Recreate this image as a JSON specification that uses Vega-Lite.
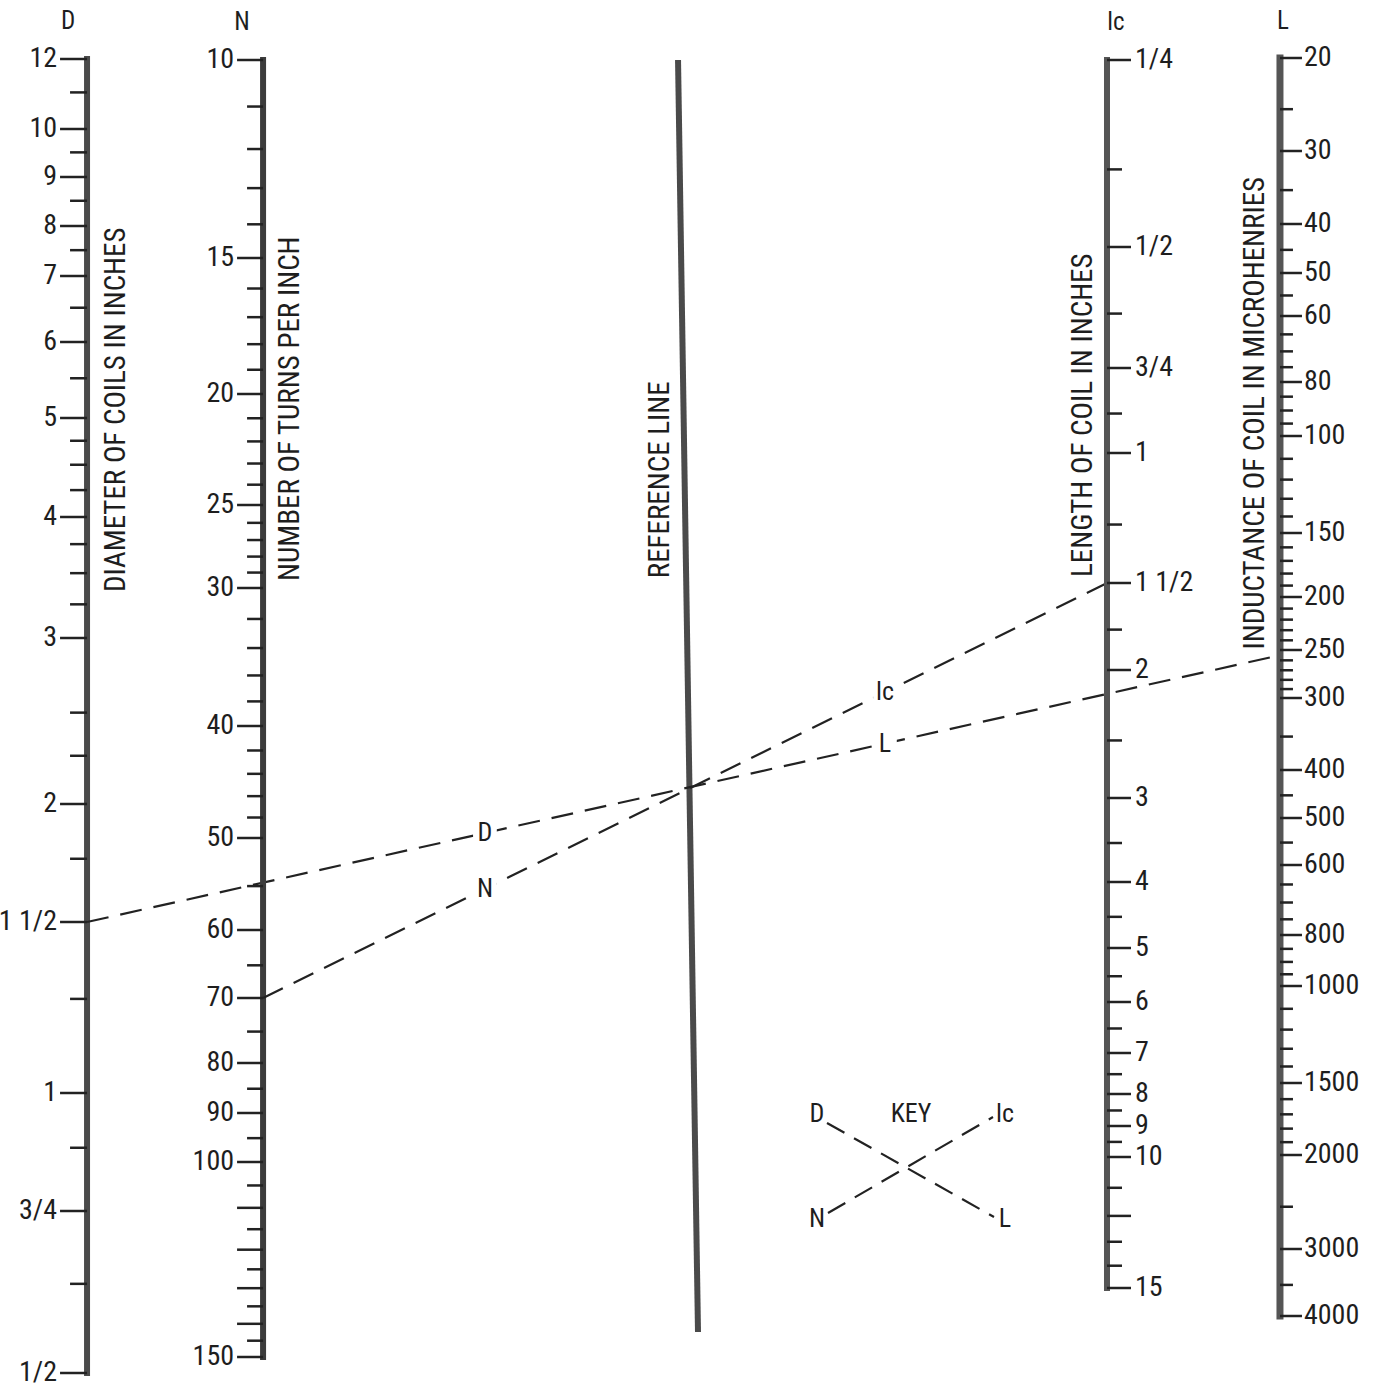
{
  "$schema": "https://vega.github.io/schema/vega-lite/v6.json",
  "width": 1386,
  "height": 1390,
  "padding": 0,
  "autosize": {"type": "none"},
  "background": "#ffffff",
  "config": {
    "view": {"stroke": null},
    "text": {"font": "Roboto Condensed, DejaVu Sans Condensed, Liberation Sans Narrow, sans-serif", "fontSize": 28, "fontWeight": 400, "color": "#1e1e1e"}
  },
  "datasets": {
    "axes": [
      {"scale": "R", "title": "REFERENCE LINE", "from": 0, "to": 1},
      {"scale": "D", "symbol": "D", "title": "DIAMETER OF COILS IN INCHES", "from": 0.5, "to": 12},
      {"scale": "N", "symbol": "N", "title": "NUMBER OF TURNS PER INCH", "from": 10, "to": 150},
      {"scale": "lc", "symbol": "lc", "title": "LENGTH OF COIL IN INCHES", "from": 0.25, "to": 15},
      {"scale": "L", "symbol": "L", "title": "INDUCTANCE OF COIL IN MICROHENRIES", "from": 20, "to": 4000}
    ],
    "solution": [
      {"line": "D to L", "from": "D", "fromValue": 1.5, "to": "L", "toValue": 255, "fromLabel": "D", "toLabel": "L"},
      {"line": "N to lc", "from": "N", "fromValue": 70, "to": "lc", "toValue": 1.5, "fromLabel": "N", "toLabel": "lc"}
    ],
    "keyLabels": [
      {"text": "D", "col": "left", "row": "top"},
      {"text": "KEY", "col": "middle", "row": "top"},
      {"text": "lc", "col": "right", "row": "top"},
      {"text": "N", "col": "left", "row": "bottom"},
      {"text": "L", "col": "right", "row": "bottom"}
    ],
    "keyLines": [
      {"pair": "D to L", "startCol": "left", "startRow": "top", "endCol": "right", "endRow": "bottom"},
      {"pair": "N to lc", "startCol": "left", "startRow": "bottom", "endCol": "right", "endRow": "top"}
    ],
    "ticks": [
      {"scale": "D", "value": 0.5, "kind": "major", "label": "1/2"},
      {"scale": "D", "value": 0.75, "kind": "major", "label": "3/4"},
      {"scale": "D", "value": 1, "kind": "major", "label": "1"},
      {"scale": "D", "value": 1.5, "kind": "major", "label": "1 1/2"},
      {"scale": "D", "value": 2, "kind": "major", "label": "2"},
      {"scale": "D", "value": 3, "kind": "major", "label": "3"},
      {"scale": "D", "value": 4, "kind": "major", "label": "4"},
      {"scale": "D", "value": 5, "kind": "major", "label": "5"},
      {"scale": "D", "value": 6, "kind": "major", "label": "6"},
      {"scale": "D", "value": 7, "kind": "major", "label": "7"},
      {"scale": "D", "value": 8, "kind": "major", "label": "8"},
      {"scale": "D", "value": 9, "kind": "major", "label": "9"},
      {"scale": "D", "value": 10, "kind": "major", "label": "10"},
      {"scale": "D", "value": 12, "kind": "major", "label": "12"},
      {"scale": "D", "value": 0.625, "kind": "minor"},
      {"scale": "D", "value": 0.875, "kind": "minor"},
      {"scale": "D", "value": 1.25, "kind": "minor"},
      {"scale": "D", "value": 1.75, "kind": "minor"},
      {"scale": "D", "value": 2.25, "kind": "minor"},
      {"scale": "D", "value": 2.5, "kind": "minor"},
      {"scale": "D", "value": 3.25, "kind": "minor"},
      {"scale": "D", "value": 3.5, "kind": "minor"},
      {"scale": "D", "value": 3.75, "kind": "minor"},
      {"scale": "D", "value": 4.25, "kind": "minor"},
      {"scale": "D", "value": 4.5, "kind": "minor"},
      {"scale": "D", "value": 4.75, "kind": "minor"},
      {"scale": "D", "value": 5.5, "kind": "minor"},
      {"scale": "D", "value": 6.5, "kind": "minor"},
      {"scale": "D", "value": 7.5, "kind": "minor"},
      {"scale": "D", "value": 8.5, "kind": "minor"},
      {"scale": "D", "value": 9.5, "kind": "minor"},
      {"scale": "D", "value": 11, "kind": "minor"},

      {"scale": "N", "value": 10, "kind": "major", "label": "10"},
      {"scale": "N", "value": 15, "kind": "major", "label": "15"},
      {"scale": "N", "value": 20, "kind": "major", "label": "20"},
      {"scale": "N", "value": 25, "kind": "major", "label": "25"},
      {"scale": "N", "value": 30, "kind": "major", "label": "30"},
      {"scale": "N", "value": 40, "kind": "major", "label": "40"},
      {"scale": "N", "value": 50, "kind": "major", "label": "50"},
      {"scale": "N", "value": 60, "kind": "major", "label": "60"},
      {"scale": "N", "value": 70, "kind": "major", "label": "70"},
      {"scale": "N", "value": 80, "kind": "major", "label": "80"},
      {"scale": "N", "value": 90, "kind": "major", "label": "90"},
      {"scale": "N", "value": 100, "kind": "major", "label": "100"},
      {"scale": "N", "value": 150, "kind": "major", "label": "150"},
      {"scale": "N", "value": 110, "kind": "major"},
      {"scale": "N", "value": 120, "kind": "major"},
      {"scale": "N", "value": 130, "kind": "major"},
      {"scale": "N", "value": 140, "kind": "major"},
      {"scale": "N", "value": 11, "kind": "minor"},
      {"scale": "N", "value": 12, "kind": "minor"},
      {"scale": "N", "value": 13, "kind": "minor"},
      {"scale": "N", "value": 14, "kind": "minor"},
      {"scale": "N", "value": 16, "kind": "minor"},
      {"scale": "N", "value": 17, "kind": "minor"},
      {"scale": "N", "value": 18, "kind": "minor"},
      {"scale": "N", "value": 19, "kind": "minor"},
      {"scale": "N", "value": 21, "kind": "minor"},
      {"scale": "N", "value": 22, "kind": "minor"},
      {"scale": "N", "value": 23, "kind": "minor"},
      {"scale": "N", "value": 24, "kind": "minor"},
      {"scale": "N", "value": 26, "kind": "minor"},
      {"scale": "N", "value": 27, "kind": "minor"},
      {"scale": "N", "value": 28, "kind": "minor"},
      {"scale": "N", "value": 29, "kind": "minor"},
      {"scale": "N", "value": 32, "kind": "minor"},
      {"scale": "N", "value": 34, "kind": "minor"},
      {"scale": "N", "value": 36, "kind": "minor"},
      {"scale": "N", "value": 38, "kind": "minor"},
      {"scale": "N", "value": 42, "kind": "minor"},
      {"scale": "N", "value": 44, "kind": "minor"},
      {"scale": "N", "value": 46, "kind": "minor"},
      {"scale": "N", "value": 48, "kind": "minor"},
      {"scale": "N", "value": 55, "kind": "minor"},
      {"scale": "N", "value": 65, "kind": "minor"},
      {"scale": "N", "value": 75, "kind": "minor"},
      {"scale": "N", "value": 85, "kind": "minor"},
      {"scale": "N", "value": 95, "kind": "minor"},
      {"scale": "N", "value": 105, "kind": "minor"},
      {"scale": "N", "value": 115, "kind": "minor"},
      {"scale": "N", "value": 125, "kind": "minor"},
      {"scale": "N", "value": 135, "kind": "minor"},
      {"scale": "N", "value": 145, "kind": "minor"},

      {"scale": "lc", "value": 0.25, "kind": "major", "label": "1/4"},
      {"scale": "lc", "value": 0.5, "kind": "major", "label": "1/2"},
      {"scale": "lc", "value": 0.75, "kind": "major", "label": "3/4"},
      {"scale": "lc", "value": 1, "kind": "major", "label": "1"},
      {"scale": "lc", "value": 1.5, "kind": "major", "label": "1 1/2"},
      {"scale": "lc", "value": 2, "kind": "major", "label": "2"},
      {"scale": "lc", "value": 3, "kind": "major", "label": "3"},
      {"scale": "lc", "value": 4, "kind": "major", "label": "4"},
      {"scale": "lc", "value": 5, "kind": "major", "label": "5"},
      {"scale": "lc", "value": 6, "kind": "major", "label": "6"},
      {"scale": "lc", "value": 7, "kind": "major", "label": "7"},
      {"scale": "lc", "value": 8, "kind": "major", "label": "8"},
      {"scale": "lc", "value": 9, "kind": "major", "label": "9"},
      {"scale": "lc", "value": 10, "kind": "major", "label": "10"},
      {"scale": "lc", "value": 15, "kind": "major", "label": "15"},
      {"scale": "lc", "value": 12, "kind": "major"},
      {"scale": "lc", "value": 0.375, "kind": "minor"},
      {"scale": "lc", "value": 0.625, "kind": "minor"},
      {"scale": "lc", "value": 0.875, "kind": "minor"},
      {"scale": "lc", "value": 1.25, "kind": "minor"},
      {"scale": "lc", "value": 1.75, "kind": "minor"},
      {"scale": "lc", "value": 2.5, "kind": "minor"},
      {"scale": "lc", "value": 3.5, "kind": "minor"},
      {"scale": "lc", "value": 4.5, "kind": "minor"},
      {"scale": "lc", "value": 5.5, "kind": "minor"},
      {"scale": "lc", "value": 6.5, "kind": "minor"},
      {"scale": "lc", "value": 7.5, "kind": "minor"},
      {"scale": "lc", "value": 8.5, "kind": "minor"},
      {"scale": "lc", "value": 9.5, "kind": "minor"},
      {"scale": "lc", "value": 11, "kind": "minor"},
      {"scale": "lc", "value": 13, "kind": "minor"},
      {"scale": "lc", "value": 14, "kind": "minor"},

      {"scale": "L", "value": 20, "kind": "major", "label": "20"},
      {"scale": "L", "value": 30, "kind": "major", "label": "30"},
      {"scale": "L", "value": 40, "kind": "major", "label": "40"},
      {"scale": "L", "value": 50, "kind": "major", "label": "50"},
      {"scale": "L", "value": 60, "kind": "major", "label": "60"},
      {"scale": "L", "value": 80, "kind": "major", "label": "80"},
      {"scale": "L", "value": 100, "kind": "major", "label": "100"},
      {"scale": "L", "value": 150, "kind": "major", "label": "150"},
      {"scale": "L", "value": 200, "kind": "major", "label": "200"},
      {"scale": "L", "value": 250, "kind": "major", "label": "250"},
      {"scale": "L", "value": 300, "kind": "major", "label": "300"},
      {"scale": "L", "value": 400, "kind": "major", "label": "400"},
      {"scale": "L", "value": 500, "kind": "major", "label": "500"},
      {"scale": "L", "value": 600, "kind": "major", "label": "600"},
      {"scale": "L", "value": 800, "kind": "major", "label": "800"},
      {"scale": "L", "value": 1000, "kind": "major", "label": "1000"},
      {"scale": "L", "value": 1500, "kind": "major", "label": "1500"},
      {"scale": "L", "value": 2000, "kind": "major", "label": "2000"},
      {"scale": "L", "value": 3000, "kind": "major", "label": "3000"},
      {"scale": "L", "value": 4000, "kind": "major", "label": "4000"},
      {"scale": "L", "value": 25, "kind": "minor"},
      {"scale": "L", "value": 35, "kind": "minor"},
      {"scale": "L", "value": 45, "kind": "minor"},
      {"scale": "L", "value": 55, "kind": "minor"},
      {"scale": "L", "value": 65, "kind": "minor"},
      {"scale": "L", "value": 70, "kind": "minor"},
      {"scale": "L", "value": 75, "kind": "minor"},
      {"scale": "L", "value": 85, "kind": "minor"},
      {"scale": "L", "value": 90, "kind": "minor"},
      {"scale": "L", "value": 95, "kind": "minor"},
      {"scale": "L", "value": 110, "kind": "minor"},
      {"scale": "L", "value": 120, "kind": "minor"},
      {"scale": "L", "value": 130, "kind": "minor"},
      {"scale": "L", "value": 140, "kind": "minor"},
      {"scale": "L", "value": 160, "kind": "minor"},
      {"scale": "L", "value": 170, "kind": "minor"},
      {"scale": "L", "value": 180, "kind": "minor"},
      {"scale": "L", "value": 190, "kind": "minor"},
      {"scale": "L", "value": 210, "kind": "minor"},
      {"scale": "L", "value": 220, "kind": "minor"},
      {"scale": "L", "value": 230, "kind": "minor"},
      {"scale": "L", "value": 240, "kind": "minor"},
      {"scale": "L", "value": 260, "kind": "minor"},
      {"scale": "L", "value": 270, "kind": "minor"},
      {"scale": "L", "value": 280, "kind": "minor"},
      {"scale": "L", "value": 290, "kind": "minor"},
      {"scale": "L", "value": 350, "kind": "minor"},
      {"scale": "L", "value": 450, "kind": "minor"},
      {"scale": "L", "value": 550, "kind": "minor"},
      {"scale": "L", "value": 650, "kind": "minor"},
      {"scale": "L", "value": 700, "kind": "minor"},
      {"scale": "L", "value": 750, "kind": "minor"},
      {"scale": "L", "value": 850, "kind": "minor"},
      {"scale": "L", "value": 900, "kind": "minor"},
      {"scale": "L", "value": 950, "kind": "minor"},
      {"scale": "L", "value": 1100, "kind": "minor"},
      {"scale": "L", "value": 1200, "kind": "minor"},
      {"scale": "L", "value": 1300, "kind": "minor"},
      {"scale": "L", "value": 1400, "kind": "minor"},
      {"scale": "L", "value": 1600, "kind": "minor"},
      {"scale": "L", "value": 1700, "kind": "minor"},
      {"scale": "L", "value": 1800, "kind": "minor"},
      {"scale": "L", "value": 1900, "kind": "minor"},
      {"scale": "L", "value": 2500, "kind": "minor"},
      {"scale": "L", "value": 3500, "kind": "minor"}
    ]
  },
  "resolve": {"scale": {"x": "independent", "y": "independent"}},
  "layer": [
    {
      "name": "R",
      "layer": [
        {
          "data": {"name": "axes"},
          "transform": [{"filter": "datum.scale === 'R'"}],
          "mark": {"type": "rule", "color": "#4a4a4a", "strokeWidth": 6},
          "encoding": {
            "x": {"datum": 50.36, "type": "quantitative", "scale": {"domain": [0, 100]}, "axis": null},
            "x2": {"datum": 48.92},
            "y": {"field": "from", "type": "quantitative", "scale": {"type": "linear", "domain": [0, 1], "range": [1332, 60], "nice": false, "zero": false}, "axis": null},
            "y2": {"field": "to"}
          }
        },
        {
          "data": {"name": "axes"},
          "transform": [{"filter": "datum.scale === 'R'"}],
          "mark": {"type": "text", "angle": 270, "align": "center", "baseline": "middle", "fontSize": 29},
          "encoding": {
            "x": {"datum": 47.62, "type": "quantitative", "scale": {"domain": [0, 100]}, "axis": null},
            "y": {"datum": 0.67, "type": "quantitative", "scale": {"type": "linear", "domain": [0, 1], "range": [1332, 60], "nice": false, "zero": false}, "axis": null},
            "text": {"field": "title"}
          }
        }
      ]
    },
    {
      "name": "D",
      "layer": [
        {
          "data": {"name": "axes"},
          "transform": [{"filter": "datum.scale === 'D'"}],
          "mark": {"type": "rule", "color": "#4a4a4a", "strokeWidth": 6, "strokeCap": "square"},
          "encoding": {
            "x": {"datum": 6.28, "type": "quantitative", "scale": {"domain": [0, 100]}, "axis": null},
            "y": {"field": "from", "type": "quantitative", "scale": {"type": "log", "domain": [0.5, 0.75, 1, 1.5, 2, 3, 4, 5, 6, 7, 8, 9, 10, 12], "range": [1373, 1211, 1093, 922, 804, 638, 517, 418, 342, 276, 226, 177, 129, 59], "nice": false}, "axis": null},
            "y2": {"field": "to"}
          }
        },
        {
          "data": {"name": "ticks"},
          "transform": [{"filter": "datum.scale === 'D' && datum.kind === 'major'"}],
          "mark": {"type": "rule", "color": "#222222", "strokeWidth": 2.5, "x2Offset": -27},
          "encoding": {
            "x": {"datum": 6.28, "type": "quantitative", "scale": {"domain": [0, 100]}, "axis": null},
            "x2": {"datum": 6.28},
            "y": {"field": "value", "type": "quantitative", "scale": {"type": "log", "domain": [0.5, 0.75, 1, 1.5, 2, 3, 4, 5, 6, 7, 8, 9, 10, 12], "range": [1373, 1211, 1093, 922, 804, 638, 517, 418, 342, 276, 226, 177, 129, 59], "nice": false}, "axis": null}
          }
        },
        {
          "data": {"name": "ticks"},
          "transform": [{"filter": "datum.scale === 'D' && datum.kind === 'minor'"}],
          "mark": {"type": "rule", "color": "#222222", "strokeWidth": 2.5, "x2Offset": -17},
          "encoding": {
            "x": {"datum": 6.28, "type": "quantitative", "scale": {"domain": [0, 100]}, "axis": null},
            "x2": {"datum": 6.28},
            "y": {"field": "value", "type": "quantitative", "scale": {"type": "log", "domain": [0.5, 0.75, 1, 1.5, 2, 3, 4, 5, 6, 7, 8, 9, 10, 12], "range": [1373, 1211, 1093, 922, 804, 638, 517, 418, 342, 276, 226, 177, 129, 59], "nice": false}, "axis": null}
          }
        },
        {
          "data": {"name": "ticks"},
          "transform": [{"filter": "datum.scale === 'D' && isValid(datum.label)"}],
          "mark": {"type": "text", "align": "right", "baseline": "middle", "dx": -30},
          "encoding": {
            "x": {"datum": 6.28, "type": "quantitative", "scale": {"domain": [0, 100]}, "axis": null},
            "y": {"field": "value", "type": "quantitative", "scale": {"type": "log", "domain": [0.5, 0.75, 1, 1.5, 2, 3, 4, 5, 6, 7, 8, 9, 10, 12], "range": [1373, 1211, 1093, 922, 804, 638, 517, 418, 342, 276, 226, 177, 129, 59], "nice": false}, "axis": null},
            "text": {"field": "label"}
          }
        },
        {
          "data": {"name": "axes"},
          "transform": [{"filter": "datum.scale === 'D'"}],
          "mark": {"type": "text", "align": "center", "baseline": "middle", "dy": -38, "fontSize": 25},
          "encoding": {
            "x": {"datum": 4.91, "type": "quantitative", "scale": {"domain": [0, 100]}, "axis": null},
            "y": {"datum": 12, "type": "quantitative", "scale": {"type": "log", "domain": [0.5, 0.75, 1, 1.5, 2, 3, 4, 5, 6, 7, 8, 9, 10, 12], "range": [1373, 1211, 1093, 922, 804, 638, 517, 418, 342, 276, 226, 177, 129, 59], "nice": false}, "axis": null},
            "text": {"field": "symbol"}
          }
        },
        {
          "data": {"name": "axes"},
          "transform": [{"filter": "datum.scale === 'D'"}],
          "mark": {"type": "text", "angle": 270, "align": "center", "baseline": "middle", "fontSize": 29},
          "encoding": {
            "x": {"datum": 8.37, "type": "quantitative", "scale": {"domain": [0, 100]}, "axis": null},
            "y": {"datum": 5.1, "type": "quantitative", "scale": {"type": "log", "domain": [0.5, 0.75, 1, 1.5, 2, 3, 4, 5, 6, 7, 8, 9, 10, 12], "range": [1373, 1211, 1093, 922, 804, 638, 517, 418, 342, 276, 226, 177, 129, 59], "nice": false}, "axis": null},
            "text": {"field": "title"}
          }
        },
        {
          "data": {"name": "solution"},
          "transform": [{"filter": "datum.from === 'D'"}],
          "mark": {"type": "rule", "color": "#222222", "strokeWidth": 2.2, "strokeDash": [22, 12]},
          "encoding": {
            "x": {"datum": 6.28, "type": "quantitative", "scale": {"domain": [0, 100]}, "axis": null},
            "x2": {"datum": 92.35},
            "y": {"field": "fromValue", "type": "quantitative", "scale": {"type": "log", "domain": [0.5, 0.75, 1, 1.5, 2, 3, 4, 5, 6, 7, 8, 9, 10, 12], "range": [1373, 1211, 1093, 922, 804, 638, 517, 418, 342, 276, 226, 177, 129, 59], "nice": false}, "axis": null},
            "y2": {"value": {"expr": "scale('L_y', datum.toValue)"}}
          }
        },
        {
          "data": {"name": "solution"},
          "transform": [{"filter": "datum.from === 'D'"}],
          "mark": {"type": "point", "shape": "square", "filled": true, "color": "#ffffff", "opacity": 1, "size": 560},
          "encoding": {
            "x": {"datum": 34.99, "type": "quantitative", "scale": {"domain": [0, 100]}, "axis": null},
            "y": {"value": {"expr": "scale('D_y', datum.fromValue) + 0.3336 * (scale('L_y', datum.toValue) - scale('D_y', datum.fromValue))"}}
          }
        },
        {
          "data": {"name": "solution"},
          "transform": [{"filter": "datum.from === 'D'"}],
          "mark": {"type": "point", "shape": "square", "filled": true, "color": "#ffffff", "opacity": 1, "size": 560},
          "encoding": {
            "x": {"datum": 63.85, "type": "quantitative", "scale": {"domain": [0, 100]}, "axis": null},
            "y": {"value": {"expr": "scale('D_y', datum.fromValue) + 0.6689 * (scale('L_y', datum.toValue) - scale('D_y', datum.fromValue))"}}
          }
        },
        {
          "data": {"name": "solution"},
          "transform": [{"filter": "datum.from === 'D'"}],
          "mark": {"type": "text", "align": "center", "baseline": "middle", "fontSize": 26},
          "encoding": {
            "x": {"datum": 34.99, "type": "quantitative", "scale": {"domain": [0, 100]}, "axis": null},
            "y": {"value": {"expr": "scale('D_y', datum.fromValue) + 0.3336 * (scale('L_y', datum.toValue) - scale('D_y', datum.fromValue))"}},
            "text": {"field": "fromLabel"}
          }
        },
        {
          "data": {"name": "solution"},
          "transform": [{"filter": "datum.from === 'D'"}],
          "mark": {"type": "text", "align": "center", "baseline": "middle", "fontSize": 26},
          "encoding": {
            "x": {"datum": 63.85, "type": "quantitative", "scale": {"domain": [0, 100]}, "axis": null},
            "y": {"value": {"expr": "scale('D_y', datum.fromValue) + 0.6689 * (scale('L_y', datum.toValue) - scale('D_y', datum.fromValue))"}},
            "text": {"field": "toLabel"}
          }
        }
      ]
    },
    {
      "name": "N",
      "layer": [
        {
          "data": {"name": "axes"},
          "transform": [{"filter": "datum.scale === 'N'"}],
          "mark": {"type": "rule", "color": "#3c3c3c", "strokeWidth": 6, "strokeCap": "square"},
          "encoding": {
            "x": {"datum": 18.98, "type": "quantitative", "scale": {"domain": [0, 100]}, "axis": null},
            "y": {"field": "from", "type": "quantitative", "scale": {"type": "log", "domain": [10, 15, 20, 25, 30, 40, 50, 60, 70, 80, 90, 100, 150], "range": [60, 258, 394, 505, 588, 726, 838, 930, 998, 1063, 1113, 1162, 1357], "nice": false}, "axis": null},
            "y2": {"field": "to"}
          }
        },
        {
          "data": {"name": "ticks"},
          "transform": [{"filter": "datum.scale === 'N' && datum.kind === 'major'"}],
          "mark": {"type": "rule", "color": "#222222", "strokeWidth": 2.5, "x2Offset": -26},
          "encoding": {
            "x": {"datum": 18.98, "type": "quantitative", "scale": {"domain": [0, 100]}, "axis": null},
            "x2": {"datum": 18.98},
            "y": {"field": "value", "type": "quantitative", "scale": {"type": "log", "domain": [10, 15, 20, 25, 30, 40, 50, 60, 70, 80, 90, 100, 150], "range": [60, 258, 394, 505, 588, 726, 838, 930, 998, 1063, 1113, 1162, 1357], "nice": false}, "axis": null}
          }
        },
        {
          "data": {"name": "ticks"},
          "transform": [{"filter": "datum.scale === 'N' && datum.kind === 'minor'"}],
          "mark": {"type": "rule", "color": "#222222", "strokeWidth": 2.5, "x2Offset": -16},
          "encoding": {
            "x": {"datum": 18.98, "type": "quantitative", "scale": {"domain": [0, 100]}, "axis": null},
            "x2": {"datum": 18.98},
            "y": {"field": "value", "type": "quantitative", "scale": {"type": "log", "domain": [10, 15, 20, 25, 30, 40, 50, 60, 70, 80, 90, 100, 150], "range": [60, 258, 394, 505, 588, 726, 838, 930, 998, 1063, 1113, 1162, 1357], "nice": false}, "axis": null}
          }
        },
        {
          "data": {"name": "ticks"},
          "transform": [{"filter": "datum.scale === 'N' && isValid(datum.label)"}],
          "mark": {"type": "text", "align": "right", "baseline": "middle", "dx": -29},
          "encoding": {
            "x": {"datum": 18.98, "type": "quantitative", "scale": {"domain": [0, 100]}, "axis": null},
            "y": {"field": "value", "type": "quantitative", "scale": {"type": "log", "domain": [10, 15, 20, 25, 30, 40, 50, 60, 70, 80, 90, 100, 150], "range": [60, 258, 394, 505, 588, 726, 838, 930, 998, 1063, 1113, 1162, 1357], "nice": false}, "axis": null},
            "text": {"field": "label"}
          }
        },
        {
          "data": {"name": "axes"},
          "transform": [{"filter": "datum.scale === 'N'"}],
          "mark": {"type": "text", "align": "center", "baseline": "middle", "dy": -38, "fontSize": 25},
          "encoding": {
            "x": {"datum": 17.46, "type": "quantitative", "scale": {"domain": [0, 100]}, "axis": null},
            "y": {"datum": 10, "type": "quantitative", "scale": {"type": "log", "domain": [10, 15, 20, 25, 30, 40, 50, 60, 70, 80, 90, 100, 150], "range": [60, 258, 394, 505, 588, 726, 838, 930, 998, 1063, 1113, 1162, 1357], "nice": false}, "axis": null},
            "text": {"field": "symbol"}
          }
        },
        {
          "data": {"name": "axes"},
          "transform": [{"filter": "datum.scale === 'N'"}],
          "mark": {"type": "text", "angle": 270, "align": "center", "baseline": "middle", "fontSize": 29},
          "encoding": {
            "x": {"datum": 20.92, "type": "quantitative", "scale": {"domain": [0, 100]}, "axis": null},
            "y": {"datum": 20.6, "type": "quantitative", "scale": {"type": "log", "domain": [10, 15, 20, 25, 30, 40, 50, 60, 70, 80, 90, 100, 150], "range": [60, 258, 394, 505, 588, 726, 838, 930, 998, 1063, 1113, 1162, 1357], "nice": false}, "axis": null},
            "text": {"field": "title"}
          }
        },
        {
          "data": {"name": "solution"},
          "transform": [{"filter": "datum.from === 'N'"}],
          "mark": {"type": "rule", "color": "#222222", "strokeWidth": 2.2, "strokeDash": [22, 12]},
          "encoding": {
            "x": {"datum": 18.98, "type": "quantitative", "scale": {"domain": [0, 100]}, "axis": null},
            "x2": {"datum": 79.87},
            "y": {"field": "fromValue", "type": "quantitative", "scale": {"type": "log", "domain": [10, 15, 20, 25, 30, 40, 50, 60, 70, 80, 90, 100, 150], "range": [60, 258, 394, 505, 588, 726, 838, 930, 998, 1063, 1113, 1162, 1357], "nice": false}, "axis": null},
            "y2": {"value": {"expr": "scale('lc_y', datum.toValue)"}}
          }
        },
        {
          "data": {"name": "solution"},
          "transform": [{"filter": "datum.from === 'N'"}],
          "mark": {"type": "point", "shape": "square", "filled": true, "color": "#ffffff", "opacity": 1, "size": 560},
          "encoding": {
            "x": {"datum": 34.99, "type": "quantitative", "scale": {"domain": [0, 100]}, "axis": null},
            "y": {"value": {"expr": "scale('N_y', datum.fromValue) + 0.2629 * (scale('lc_y', datum.toValue) - scale('N_y', datum.fromValue))"}}
          }
        },
        {
          "data": {"name": "solution"},
          "transform": [{"filter": "datum.from === 'N'"}],
          "mark": {"type": "point", "shape": "square", "filled": true, "color": "#ffffff", "opacity": 1, "size": 560},
          "encoding": {
            "x": {"datum": 63.85, "type": "quantitative", "scale": {"domain": [0, 100]}, "axis": null},
            "y": {"value": {"expr": "scale('N_y', datum.fromValue) + 0.7369 * (scale('lc_y', datum.toValue) - scale('N_y', datum.fromValue))"}}
          }
        },
        {
          "data": {"name": "solution"},
          "transform": [{"filter": "datum.from === 'N'"}],
          "mark": {"type": "text", "align": "center", "baseline": "middle", "fontSize": 26},
          "encoding": {
            "x": {"datum": 34.99, "type": "quantitative", "scale": {"domain": [0, 100]}, "axis": null},
            "y": {"value": {"expr": "scale('N_y', datum.fromValue) + 0.2629 * (scale('lc_y', datum.toValue) - scale('N_y', datum.fromValue))"}},
            "text": {"field": "fromLabel"}
          }
        },
        {
          "data": {"name": "solution"},
          "transform": [{"filter": "datum.from === 'N'"}],
          "mark": {"type": "text", "align": "center", "baseline": "middle", "fontSize": 26},
          "encoding": {
            "x": {"datum": 63.85, "type": "quantitative", "scale": {"domain": [0, 100]}, "axis": null},
            "y": {"value": {"expr": "scale('N_y', datum.fromValue) + 0.7369 * (scale('lc_y', datum.toValue) - scale('N_y', datum.fromValue))"}},
            "text": {"field": "toLabel"}
          }
        }
      ]
    },
    {
      "name": "lc",
      "layer": [
        {
          "data": {"name": "axes"},
          "transform": [{"filter": "datum.scale === 'lc'"}],
          "mark": {"type": "rule", "color": "#555555", "strokeWidth": 6, "strokeCap": "square"},
          "encoding": {
            "x": {"datum": 79.87, "type": "quantitative", "scale": {"domain": [0, 100]}, "axis": null},
            "y": {"field": "from", "type": "quantitative", "scale": {"type": "log", "domain": [0.25, 0.5, 0.75, 1, 1.5, 2, 3, 4, 5, 6, 7, 8, 9, 10, 15], "range": [60, 247, 368, 453, 583, 670, 798, 882, 948, 1002, 1053, 1094, 1126, 1157, 1288], "nice": false}, "axis": null},
            "y2": {"field": "to"}
          }
        },
        {
          "data": {"name": "ticks"},
          "transform": [{"filter": "datum.scale === 'lc' && datum.kind === 'major'"}],
          "mark": {"type": "rule", "color": "#222222", "strokeWidth": 2.5, "x2Offset": 24},
          "encoding": {
            "x": {"datum": 79.87, "type": "quantitative", "scale": {"domain": [0, 100]}, "axis": null},
            "x2": {"datum": 79.87},
            "y": {"field": "value", "type": "quantitative", "scale": {"type": "log", "domain": [0.25, 0.5, 0.75, 1, 1.5, 2, 3, 4, 5, 6, 7, 8, 9, 10, 15], "range": [60, 247, 368, 453, 583, 670, 798, 882, 948, 1002, 1053, 1094, 1126, 1157, 1288], "nice": false}, "axis": null}
          }
        },
        {
          "data": {"name": "ticks"},
          "transform": [{"filter": "datum.scale === 'lc' && datum.kind === 'minor'"}],
          "mark": {"type": "rule", "color": "#222222", "strokeWidth": 2.5, "x2Offset": 15},
          "encoding": {
            "x": {"datum": 79.87, "type": "quantitative", "scale": {"domain": [0, 100]}, "axis": null},
            "x2": {"datum": 79.87},
            "y": {"field": "value", "type": "quantitative", "scale": {"type": "log", "domain": [0.25, 0.5, 0.75, 1, 1.5, 2, 3, 4, 5, 6, 7, 8, 9, 10, 15], "range": [60, 247, 368, 453, 583, 670, 798, 882, 948, 1002, 1053, 1094, 1126, 1157, 1288], "nice": false}, "axis": null}
          }
        },
        {
          "data": {"name": "ticks"},
          "transform": [{"filter": "datum.scale === 'lc' && isValid(datum.label)"}],
          "mark": {"type": "text", "align": "left", "baseline": "middle", "dx": 28},
          "encoding": {
            "x": {"datum": 79.87, "type": "quantitative", "scale": {"domain": [0, 100]}, "axis": null},
            "y": {"field": "value", "type": "quantitative", "scale": {"type": "log", "domain": [0.25, 0.5, 0.75, 1, 1.5, 2, 3, 4, 5, 6, 7, 8, 9, 10, 15], "range": [60, 247, 368, 453, 583, 670, 798, 882, 948, 1002, 1053, 1094, 1126, 1157, 1288], "nice": false}, "axis": null},
            "text": {"field": "label"}
          }
        },
        {
          "data": {"name": "axes"},
          "transform": [{"filter": "datum.scale === 'lc'"}],
          "mark": {"type": "text", "align": "center", "baseline": "middle", "dy": -38, "fontSize": 25},
          "encoding": {
            "x": {"datum": 80.52, "type": "quantitative", "scale": {"domain": [0, 100]}, "axis": null},
            "y": {"datum": 0.25, "type": "quantitative", "scale": {"type": "log", "domain": [0.25, 0.5, 0.75, 1, 1.5, 2, 3, 4, 5, 6, 7, 8, 9, 10, 15], "range": [60, 247, 368, 453, 583, 670, 798, 882, 948, 1002, 1053, 1094, 1126, 1157, 1288], "nice": false}, "axis": null},
            "text": {"field": "symbol"}
          }
        },
        {
          "data": {"name": "axes"},
          "transform": [{"filter": "datum.scale === 'lc'"}],
          "mark": {"type": "text", "angle": 270, "align": "center", "baseline": "middle", "fontSize": 29},
          "encoding": {
            "x": {"datum": 78.14, "type": "quantitative", "scale": {"domain": [0, 100]}, "axis": null},
            "y": {"datum": 0.88, "type": "quantitative", "scale": {"type": "log", "domain": [0.25, 0.5, 0.75, 1, 1.5, 2, 3, 4, 5, 6, 7, 8, 9, 10, 15], "range": [60, 247, 368, 453, 583, 670, 798, 882, 948, 1002, 1053, 1094, 1126, 1157, 1288], "nice": false}, "axis": null},
            "text": {"field": "title"}
          }
        }
      ]
    },
    {
      "name": "L",
      "layer": [
        {
          "data": {"name": "axes"},
          "transform": [{"filter": "datum.scale === 'L'"}],
          "mark": {"type": "rule", "color": "#555555", "strokeWidth": 7, "strokeCap": "square"},
          "encoding": {
            "x": {"datum": 92.35, "type": "quantitative", "scale": {"domain": [0, 100]}, "axis": null},
            "y": {"field": "from", "type": "quantitative", "scale": {"type": "log", "domain": [20, 30, 40, 50, 60, 80, 100, 150, 200, 250, 300, 400, 500, 600, 800, 1000, 1500, 2000, 3000, 4000], "range": [58, 151, 224, 273, 316, 382, 436, 533, 597, 650, 698, 770, 818, 865, 935, 986, 1083, 1155, 1249, 1316], "nice": false}, "axis": null},
            "y2": {"field": "to"}
          }
        },
        {
          "data": {"name": "ticks"},
          "transform": [{"filter": "datum.scale === 'L' && datum.kind === 'major'"}],
          "mark": {"type": "rule", "color": "#222222", "strokeWidth": 2.5, "x2Offset": 22},
          "encoding": {
            "x": {"datum": 92.35, "type": "quantitative", "scale": {"domain": [0, 100]}, "axis": null},
            "x2": {"datum": 92.35},
            "y": {"field": "value", "type": "quantitative", "scale": {"type": "log", "domain": [20, 30, 40, 50, 60, 80, 100, 150, 200, 250, 300, 400, 500, 600, 800, 1000, 1500, 2000, 3000, 4000], "range": [58, 151, 224, 273, 316, 382, 436, 533, 597, 650, 698, 770, 818, 865, 935, 986, 1083, 1155, 1249, 1316], "nice": false}, "axis": null}
          }
        },
        {
          "data": {"name": "ticks"},
          "transform": [{"filter": "datum.scale === 'L' && datum.kind === 'minor'"}],
          "mark": {"type": "rule", "color": "#222222", "strokeWidth": 2.5, "x2Offset": 13},
          "encoding": {
            "x": {"datum": 92.35, "type": "quantitative", "scale": {"domain": [0, 100]}, "axis": null},
            "x2": {"datum": 92.35},
            "y": {"field": "value", "type": "quantitative", "scale": {"type": "log", "domain": [20, 30, 40, 50, 60, 80, 100, 150, 200, 250, 300, 400, 500, 600, 800, 1000, 1500, 2000, 3000, 4000], "range": [58, 151, 224, 273, 316, 382, 436, 533, 597, 650, 698, 770, 818, 865, 935, 986, 1083, 1155, 1249, 1316], "nice": false}, "axis": null}
          }
        },
        {
          "data": {"name": "ticks"},
          "transform": [{"filter": "datum.scale === 'L' && isValid(datum.label)"}],
          "mark": {"type": "text", "align": "left", "baseline": "middle", "dx": 24},
          "encoding": {
            "x": {"datum": 92.35, "type": "quantitative", "scale": {"domain": [0, 100]}, "axis": null},
            "y": {"field": "value", "type": "quantitative", "scale": {"type": "log", "domain": [20, 30, 40, 50, 60, 80, 100, 150, 200, 250, 300, 400, 500, 600, 800, 1000, 1500, 2000, 3000, 4000], "range": [58, 151, 224, 273, 316, 382, 436, 533, 597, 650, 698, 770, 818, 865, 935, 986, 1083, 1155, 1249, 1316], "nice": false}, "axis": null},
            "text": {"field": "label"}
          }
        },
        {
          "data": {"name": "axes"},
          "transform": [{"filter": "datum.scale === 'L'"}],
          "mark": {"type": "text", "align": "center", "baseline": "middle", "dy": -37, "fontSize": 25},
          "encoding": {
            "x": {"datum": 92.57, "type": "quantitative", "scale": {"domain": [0, 100]}, "axis": null},
            "y": {"datum": 20, "type": "quantitative", "scale": {"type": "log", "domain": [20, 30, 40, 50, 60, 80, 100, 150, 200, 250, 300, 400, 500, 600, 800, 1000, 1500, 2000, 3000, 4000], "range": [58, 151, 224, 273, 316, 382, 436, 533, 597, 650, 698, 770, 818, 865, 935, 986, 1083, 1155, 1249, 1316], "nice": false}, "axis": null},
            "text": {"field": "symbol"}
          }
        },
        {
          "data": {"name": "axes"},
          "transform": [{"filter": "datum.scale === 'L'"}],
          "mark": {"type": "text", "angle": 270, "align": "center", "baseline": "middle", "fontSize": 29},
          "encoding": {
            "x": {"datum": 90.55, "type": "quantitative", "scale": {"domain": [0, 100]}, "axis": null},
            "y": {"datum": 91, "type": "quantitative", "scale": {"type": "log", "domain": [20, 30, 40, 50, 60, 80, 100, 150, 200, 250, 300, 400, 500, 600, 800, 1000, 1500, 2000, 3000, 4000], "range": [58, 151, 224, 273, 316, 382, 436, 533, 597, 650, 698, 770, 818, 865, 935, 986, 1083, 1155, 1249, 1316], "nice": false}, "axis": null},
            "text": {"field": "title"}
          }
        }
      ]
    },
    {
      "name": "K",
      "layer": [
        {
          "data": {"name": "keyLines"},
          "transform": [{"filter": "datum.pair === 'D to L'"}],
          "mark": {"type": "rule", "color": "#222222", "strokeWidth": 2.2, "strokeDash": [20, 11], "xOffset": 10, "yOffset": 9, "x2Offset": -11, "y2Offset": -2},
          "encoding": {
            "x": {"field": "startCol", "type": "nominal", "scale": {"type": "point", "domain": ["left", "middle", "right"], "range": [817, 1005], "padding": 0}, "axis": null},
            "x2": {"field": "endCol"},
            "y": {"field": "startRow", "type": "nominal", "scale": {"type": "point", "domain": ["top", "bottom"], "range": [1114, 1219], "padding": 0}, "axis": null},
            "y2": {"field": "endRow"}
          }
        },
        {
          "data": {"name": "keyLines"},
          "transform": [{"filter": "datum.pair === 'N to lc'"}],
          "mark": {"type": "rule", "color": "#222222", "strokeWidth": 2.2, "strokeDash": [20, 11], "xOffset": 11, "yOffset": -6, "x2Offset": -12, "y2Offset": 3},
          "encoding": {
            "x": {"field": "startCol", "type": "nominal", "scale": {"type": "point", "domain": ["left", "middle", "right"], "range": [817, 1005], "padding": 0}, "axis": null},
            "x2": {"field": "endCol"},
            "y": {"field": "startRow", "type": "nominal", "scale": {"type": "point", "domain": ["top", "bottom"], "range": [1114, 1219], "padding": 0}, "axis": null},
            "y2": {"field": "endRow"}
          }
        },
        {
          "data": {"name": "keyLabels"},
          "mark": {"type": "text", "align": "center", "baseline": "middle", "fontSize": 26},
          "encoding": {
            "x": {"field": "col", "type": "nominal", "scale": {"type": "point", "domain": ["left", "middle", "right"], "range": [817, 1005], "padding": 0}, "axis": null},
            "y": {"field": "row", "type": "nominal", "scale": {"type": "point", "domain": ["top", "bottom"], "range": [1114, 1219], "padding": 0}, "axis": null},
            "text": {"field": "text"}
          }
        }
      ]
    }
  ]
}
